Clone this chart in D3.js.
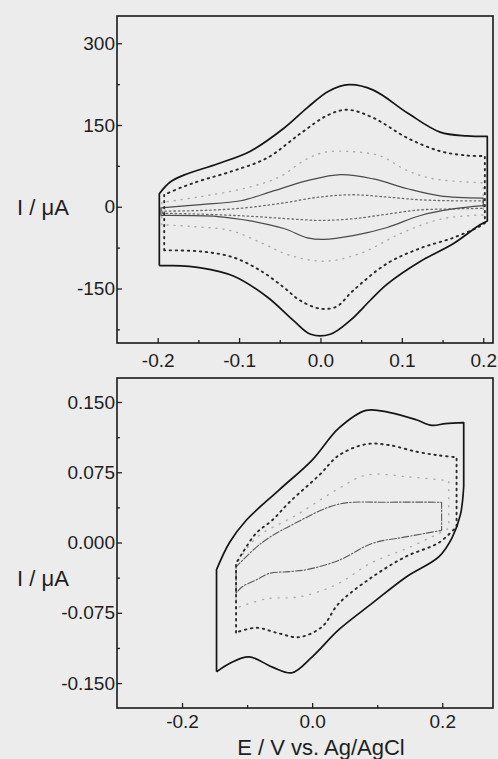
<!DOCTYPE html>
<html lang="en">
<head>
<meta charset="utf-8">
<title>CV</title>
<script src="https://d3js.org/d3.v7.min.js"></script>
<style>
  body { margin: 0; background: #ececec; }
  text { font-family: "Liberation Sans", Arial, sans-serif; fill: #1e1e1e; }
</style>
</head>
<body>
<script>
// ---- top panel: I in uA vs E in V ----
var topSolid = [[-0.198,-108],[-0.198,24],[-0.185,45],[-0.168,58],[-0.126,79],[-0.086,102],[-0.045,144],
  [-0.016,182],[0.01,212],[0.035,224],[0.065,214],[0.107,172],[0.147,137],[0.18,130],[0.205,129],
  [0.205,-26],[0.196,-33],[0.163,-68],[0.123,-100],[0.082,-142],[0.061,-172],[0.037,-208],[0.012,-234],
  [-0.012,-234],[-0.033,-209],[-0.065,-166],[-0.107,-127],[-0.147,-112],[-0.185,-108],[-0.198,-108]];
var topDotted = [[-0.192,-80],[-0.192,22],[-0.17,36],[-0.147,48],[-0.107,66],[-0.065,90],[-0.025,134],
  [0.009,168],[0.033,178],[0.065,163],[0.107,126],[0.147,102],[0.18,94],[0.202,93],
  [0.202,-30],[0.193,-38],[0.163,-57],[0.123,-76],[0.082,-104],[0.04,-154],[0.02,-183],[0.0,-187],
  [-0.025,-172],[-0.045,-148],[-0.074,-117],[-0.107,-93],[-0.147,-82],[-0.192,-80]];
var topFaint = [[-0.195,-33],[-0.195,8],[-0.15,18],[-0.09,35],[-0.05,55],[-0.02,85],[0.005,100],
  [0.04,101],[0.074,93],[0.107,66],[0.14,51],[0.2,44],
  [0.2,-15],[0.15,-22],[0.1,-48],[0.05,-85],[0.005,-100],[-0.04,-88],[-0.07,-68],[-0.11,-44],
  [-0.16,-36],[-0.195,-33]];
var topThin = [[-0.196,-16],[-0.196,-2],[-0.147,4],[-0.098,11],[-0.058,29],[-0.016,48],[0.025,59],
  [0.065,51],[0.107,33],[0.147,20],[0.2,16],
  [0.2,2],[0.163,-4],[0.123,-16],[0.082,-38],[0.04,-53],[0.004,-60],[-0.016,-57],[-0.045,-40],
  [-0.086,-26],[-0.126,-18],[-0.196,-16]];
var topSmall = [[-0.194,-12],[-0.194,-8],[-0.15,-7],[-0.1,-3],[-0.05,6],[0.0,18],[0.04,22],[0.08,18],
  [0.12,13],[0.16,11],[0.2,11],
  [0.2,-3],[0.16,-4],[0.12,-6],[0.08,-14],[0.04,-22],[0.0,-25],[-0.04,-22],[-0.08,-18],
  [-0.12,-15],[-0.16,-13],[-0.194,-12]];

// ---- bottom panel ----
var botSolid = [[-0.147,-0.138],[-0.147,-0.029],[-0.127,0.0],[-0.101,0.024],[-0.051,0.056],[0.0,0.088],
  [0.041,0.122],[0.083,0.141],[0.118,0.139],[0.16,0.131],[0.184,0.125],[0.205,0.127],[0.233,0.128],
  [0.233,0.06],[0.228,0.03],[0.215,0.005],[0.195,-0.015],[0.144,-0.037],[0.092,-0.065],[0.041,-0.093],
  [0.0,-0.122],[-0.031,-0.139],[-0.061,-0.133],[-0.097,-0.122],[-0.127,-0.129],[-0.147,-0.138]];
var botDotted = [[-0.117,-0.096],[-0.117,-0.022],[-0.107,-0.011],[-0.086,0.01],[-0.061,0.024],
  [-0.035,0.043],[0.011,0.072],[0.041,0.093],[0.083,0.105],[0.118,0.104],[0.16,0.097],[0.195,0.093],
  [0.222,0.091],[0.222,0.017],[0.195,0.0],[0.144,-0.015],[0.092,-0.037],[0.041,-0.065],[0.015,-0.09],
  [-0.02,-0.101],[-0.051,-0.097],[-0.086,-0.091],[-0.117,-0.096]];
var botFaint = [[-0.117,-0.07],[-0.117,-0.024],[-0.086,0.005],[-0.025,0.029],[0.037,0.056],
  [0.083,0.072],[0.15,0.07],[0.21,0.066],[0.21,0.015],[0.15,-0.005],[0.09,-0.022],[0.037,-0.045],
  [-0.02,-0.058],[-0.07,-0.06],[-0.117,-0.07]];
var botDashDot = [[-0.117,-0.054],[-0.117,-0.026],[-0.077,0.0],[-0.025,0.021],[0.041,0.041],
  [0.118,0.043],[0.199,0.043],[0.199,0.013],[0.144,0.006],[0.092,-0.001],[0.041,-0.019],
  [-0.009,-0.029],[-0.035,-0.031],[-0.066,-0.033],[-0.086,-0.04],[-0.107,-0.047],[-0.117,-0.054]];

var topXTicks = [-0.2, -0.1, 0.0, 0.1, 0.2];
var topYTicks = [300, 150, 0, -150];
var botXTicks = [-0.2, 0.0, 0.2];
var botYTicks = [0.150, 0.075, 0.000, -0.075, -0.150];

var svg = d3.select("body").append("svg")
  .attr("width", 498).attr("height", 759);

// plain hyphen instead of the unicode minus d3 uses
function fmt(spec) {
  var f = d3.format(spec);
  return function(d){ return f(d).replace("\u2212", "-"); };
}

function panel(o) {
  var x = d3.scaleLinear().domain(o.xDom).range([117, 493]);
  var y = d3.scaleLinear().domain(o.yDom).range([o.bottom, o.top]);
  var g = svg.append("g");

  var line = d3.line()
    .x(function(d){ return x(d[0]); })
    .y(function(d){ return y(d[1]); })
    .curve(d3.curveCatmullRom.alpha(0.5));

  // smooth runs, straight vertical steps at the switching potentials
  function loopPath(pts) {
    var runs = [], cur = [pts[0]];
    for (var i = 1; i < pts.length; i++) {
      if (pts[i][0] === pts[i-1][0]) { runs.push(cur); cur = [pts[i]]; }
      else cur.push(pts[i]);
    }
    runs.push(cur);
    var d = "";
    runs.forEach(function(r, k){
      var s = r.length > 1 ? line(r) : "M" + x(r[0][0]) + "," + y(r[0][1]);
      d += k === 0 ? s : "L" + s.slice(1);
    });
    return d;
  }

  o.curves.forEach(function(c){
    g.append("path")
      .attr("d", loopPath(c.data))
      .attr("fill", "none")
      .attr("stroke", c.color)
      .attr("stroke-width", c.width)
      .attr("stroke-dasharray", c.dash)
      .attr("stroke-linejoin", "round")
      .attr("stroke-linecap", c.dash ? "round" : "butt");
  });

  // minor ticks
  g.append("g").attr("transform", "translate(0," + o.bottom + ")")
    .call(d3.axisBottom(x).tickValues(o.xMinor).tickSize(-3).tickFormat(""))
    .call(function(s){ s.select(".domain").remove(); });
  g.append("g").attr("transform", "translate(117,0)")
    .call(d3.axisLeft(y).tickValues(o.yMinor).tickSize(-3).tickFormat(""))
    .call(function(s){ s.select(".domain").remove(); });

  var xa = g.append("g").attr("transform", "translate(0," + o.bottom + ")")
    .call(d3.axisBottom(x).tickValues(o.xTicks).tickSize(-5).tickPadding(o.xPad)
      .tickFormat(fmt(".1f")));
  xa.select(".domain").remove();
  var ya = g.append("g").attr("transform", "translate(117,0)")
    .call(d3.axisLeft(y).tickValues(o.yTicks).tickSize(-5).tickPadding(2)
      .tickFormat(o.yFmt));
  ya.select(".domain").remove();
  g.selectAll(".tick text").style("font-size", "19px").attr("fill", "#1e1e1e");
  g.selectAll(".tick line").attr("stroke", "#222").attr("stroke-width", 1.3);

  g.append("rect")
    .attr("x", 117).attr("y", o.top)
    .attr("width", 493 - 117).attr("height", o.bottom - o.top)
    .attr("fill", "none").attr("stroke", "#1a1a1a").attr("stroke-width", 1.6);

  g.append("text")
    .attr("x", 17).attr("y", o.labelY)
    .style("font-size", "22px")
    .text("I / \u03BCA");
}

panel({
  xDom: [-0.25, 0.212], yDom: [-250, 350], top: 16, bottom: 343,
  xTicks: topXTicks, xMinor: [-0.15, -0.05, 0.05, 0.15],
  yTicks: topYTicks, yMinor: [225, 75, -75, -225],
  yFmt: fmt("d"), xPad: 11, labelY: 215,
  curves: [
    {data: topFaint, color: "#ababab", width: 1.4, dash: "1,6"},
    {data: topSmall, color: "#6a6a6a", width: 1.3, dash: "1.5,3"},
    {data: topThin, color: "#4a4a4a", width: 1.2, dash: null},
    {data: topDotted, color: "#2a2a2a", width: 1.9, dash: "1.5,4.5"},
    {data: topSolid, color: "#151515", width: 1.7, dash: null}
  ]
});

panel({
  xDom: [-0.3, 0.278], yDom: [-0.1766, 0.1756], top: 378, bottom: 708,
  xTicks: botXTicks, xMinor: [-0.1, 0.1],
  yTicks: botYTicks, yMinor: [0.1125, 0.0375, -0.0375, -0.1125],
  yFmt: fmt(".3f"), xPad: 7, labelY: 586,
  curves: [
    {data: botFaint, color: "#ababab", width: 1.4, dash: "1,7"},
    {data: botDashDot, color: "#5a5a5a", width: 1.1, dash: "7,2,1.5,2"},
    {data: botDotted, color: "#2a2a2a", width: 1.9, dash: "1.5,4.5"},
    {data: botSolid, color: "#151515", width: 1.7, dash: null}
  ]
});

svg.append("text")
  .attr("x", 321).attr("y", 755)
  .attr("text-anchor", "middle")
  .style("font-size", "22px")
  .text("E / V vs. Ag/AgCl");
</script>
</body>
</html>
